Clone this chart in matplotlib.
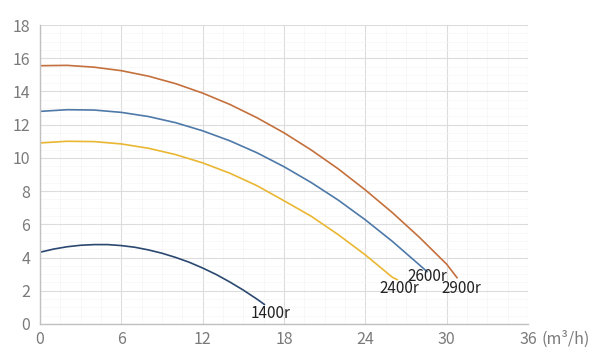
import matplotlib
matplotlib.use("Agg")
import matplotlib.pyplot as plt
from matplotlib.ticker import MultipleLocator

plt.rcParams['font.family'] = ['Noto Sans CJK SC', 'DejaVu Sans']

# Flow (m3/h) and head (m)
q_2900 = [0, 2, 4, 6, 8, 10, 12, 14, 16, 18, 20, 22, 24, 26, 28, 30, 30.8]
h_2900 = [15.55, 15.57, 15.46, 15.25, 14.92, 14.47, 13.90, 13.22, 12.42, 11.51,
          10.48, 9.34, 8.07, 6.70, 5.21, 3.60, 2.75]

q_2600 = [0, 2, 4, 6, 8, 10, 12, 14, 16, 18, 20, 22, 24, 26, 28, 28.6]
h_2600 = [12.80, 12.90, 12.88, 12.74, 12.49, 12.12, 11.63, 11.03, 10.31, 9.47,
          8.52, 7.46, 6.27, 4.97, 3.55, 3.12]

q_2400 = [0, 2, 4, 6, 8, 10, 12, 14, 16, 18, 20, 22, 24, 26, 26.4]
h_2400 = [10.90, 11.00, 10.98, 10.84, 10.58, 10.20, 9.70, 9.08, 8.33, 7.42,
          6.49, 5.38, 4.16, 2.81, 2.65]

q_1400 = [0, 1, 2, 3, 4, 5, 6, 7, 8, 9, 10, 11, 12, 13, 14, 15, 16, 16.6]
h_1400 = [4.32, 4.51, 4.65, 4.74, 4.78, 4.78, 4.72, 4.62, 4.46, 4.26, 4.01,
          3.72, 3.37, 2.98, 2.53, 2.04, 1.50, 1.15]

labels = ["2900r", "2600r", "2400r", "1400r"]
colors = ["#c4703c", "#4e79a8", "#eab733", "#2a4870"]
x_ticks = [0, 6, 12, 18, 24, 30, 36]
y_ticks = [0, 2, 4, 6, 8, 10, 12, 14, 16, 18]

fig = plt.figure(figsize=(6, 3.6), dpi=100)
ax = fig.add_axes([40/600, 36/360, 488/600, 299/360])

series = [(q_2900, h_2900), (q_2600, h_2600), (q_2400, h_2400), (q_1400, h_1400)]
for (q, h), c in zip(series, colors):
    ax.plot(q, h, color=c, lw=1.2, solid_capstyle='butt', solid_joinstyle='round')

ax.set_xlim(0, 36)
ax.set_ylim(0, 18)
ax.set_xticks(x_ticks)
ax.set_yticks(y_ticks)
ax.xaxis.set_minor_locator(MultipleLocator(1.5))
ax.yaxis.set_minor_locator(MultipleLocator(0.5))
ax.grid(True, which='major', color='#dcdcdc', lw=0.8)
ax.grid(True, which='minor', color='#f5f5f5', lw=0.5)
ax.set_axisbelow(True)
for s in ['top', 'right']:
    ax.spines[s].set_visible(False)
for s in ['left', 'bottom']:
    ax.spines[s].set_color('#c0c0c0')
    ax.spines[s].set_linewidth(1.0)
ax.tick_params(which='both', length=0, labelsize=11.5, colors='#7a7a7a', pad=5)
ax.tick_params(axis='y', pad=7)

# curve labels
txt = dict(fontsize=11, color='#222222', ha='center', va='center')
ax.text(17.0, 0.65, "1400r", **txt)
ax.text(26.5, 2.15, "2400r", **txt)
ax.text(28.6, 2.85, "2600r", **txt)
ax.text(31.1, 2.15, "2900r", **txt)

# axis unit
ax.text(37.0, -0.93, "(m³/h)", fontsize=11.5, color='#7a7a7a', ha='left', va='center',
        clip_on=False)

fig.savefig("out.png", dpi=100)
